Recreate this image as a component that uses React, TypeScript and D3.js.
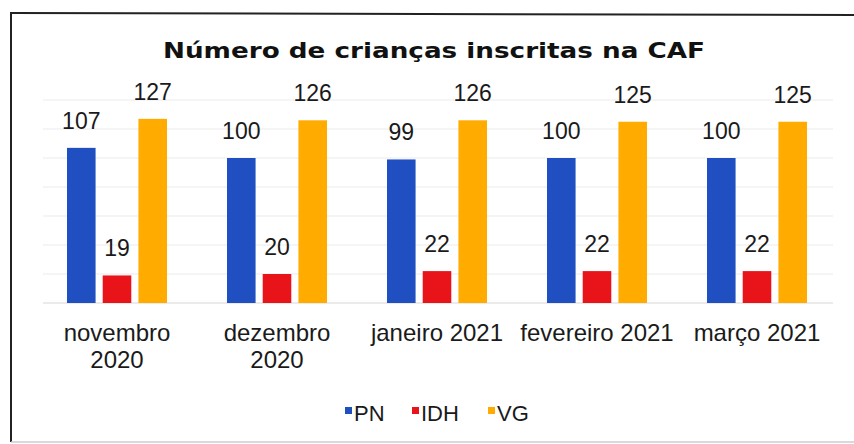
import React from "react";
import * as d3 from "d3";

// dados
const months = ["novembro 2020", "dezembro 2020", "janeiro 2021", "fevereiro 2021", "março 2021"];
const monthLines = [["novembro", "2020"], ["dezembro", "2020"], ["janeiro 2021"], ["fevereiro 2021"], ["março 2021"]];
const seriesNames = ["PN", "IDH", "VG"];
const pnValues = [107, 100, 99, 100, 100];
const idhValues = [19, 20, 22, 22, 22];
const vgValues = [127, 126, 126, 125, 125];
const seriesColors = ["#1f4fc0", "#e8141a", "#ffab00"];
const gridTicks = [0, 20, 40, 60, 80, 100, 120, 140];

const W = 854;
const H = 444;
const font = "'Liberation Sans', Arial, sans-serif";

export default function App() {
  const values = [pnValues, idhValues, vgValues];

  const x0 = d3.scaleBand<string>().domain(months).range([37, 837]).padding(0);
  const x1 = d3.scaleBand<string>().domain(seriesNames).range([30, 130]).paddingInner(0.2).paddingOuter(0);
  const y = d3.scaleLinear().domain([0, 140]).range([303, 100]);
  const color = d3.scaleOrdinal<string, string>().domain(seriesNames).range(seriesColors);

  const legendX = [345, 412, 488];

  return (
    <svg width={W} height={H} style={{ position: "fixed", left: 0, top: 0, background: "#fff" }}>
      <rect x={0} y={0} width={W} height={H} fill="#fff" />

      {/* moldura */}
      <line x1={11} y1={13} x2={W} y2={15} stroke="#222" strokeWidth={2} />
      <line x1={11} y1={12} x2={11} y2={442} stroke="#222" strokeWidth={2} />
      <line x1={11} y1={442} x2={W} y2={442} stroke="#ccc" strokeWidth={1.5} />

      <text x={434} y={58} textAnchor="middle" fontFamily="'DejaVu Sans', Verdana, sans-serif" fontWeight="bold"
        fontSize={22} fill="#111" textLength={542} lengthAdjust="spacingAndGlyphs">
        Número  de  crianças  inscritas  na  CAF
      </text>

      {/* grelha */}
      {gridTicks.map(t => (
        <line key={t} x1={43} x2={833} y1={y(t)} y2={y(t)} stroke={t === 0 ? "#d8d8d8" : "#ebebeb"} strokeWidth={1.2} />
      ))}

      {months.map((m, i) => (
        <g key={m} transform={`translate(${x0(m)},0)`}>
          {seriesNames.map((s, j) => {
            const v = values[j][i];
            const bx = x1(s)!;
            return (
              <g key={s}>
                <rect x={bx} y={y(v)} width={x1.bandwidth()} height={y(0) - y(v)} fill={color(s)} />
                <text x={bx + x1.bandwidth() / 2} y={y(v) - 19} textAnchor="middle" fontFamily={font} fontSize={23} fill="#1a1a1a">
                  {v}
                </text>
              </g>
            );
          })}
          {monthLines[i].map((ln, k) => (
            <text key={k} x={x0.bandwidth() / 2} y={341 + k * 27} textAnchor="middle" fontFamily={font} fontSize={24} fill="#1a1a1a">
              {ln}
            </text>
          ))}
        </g>
      ))}

      {/* legenda */}
      {seriesNames.map((s, j) => (
        <g key={s} transform={`translate(${legendX[j]},0)`}>
          <rect x={0} y={407} width={7} height={7} fill={color(s)} />
          <text x={9} y={421} fontFamily={font} fontSize={22} fill="#1a1a1a">{s}</text>
        </g>
      ))}
    </svg>
  );
}
